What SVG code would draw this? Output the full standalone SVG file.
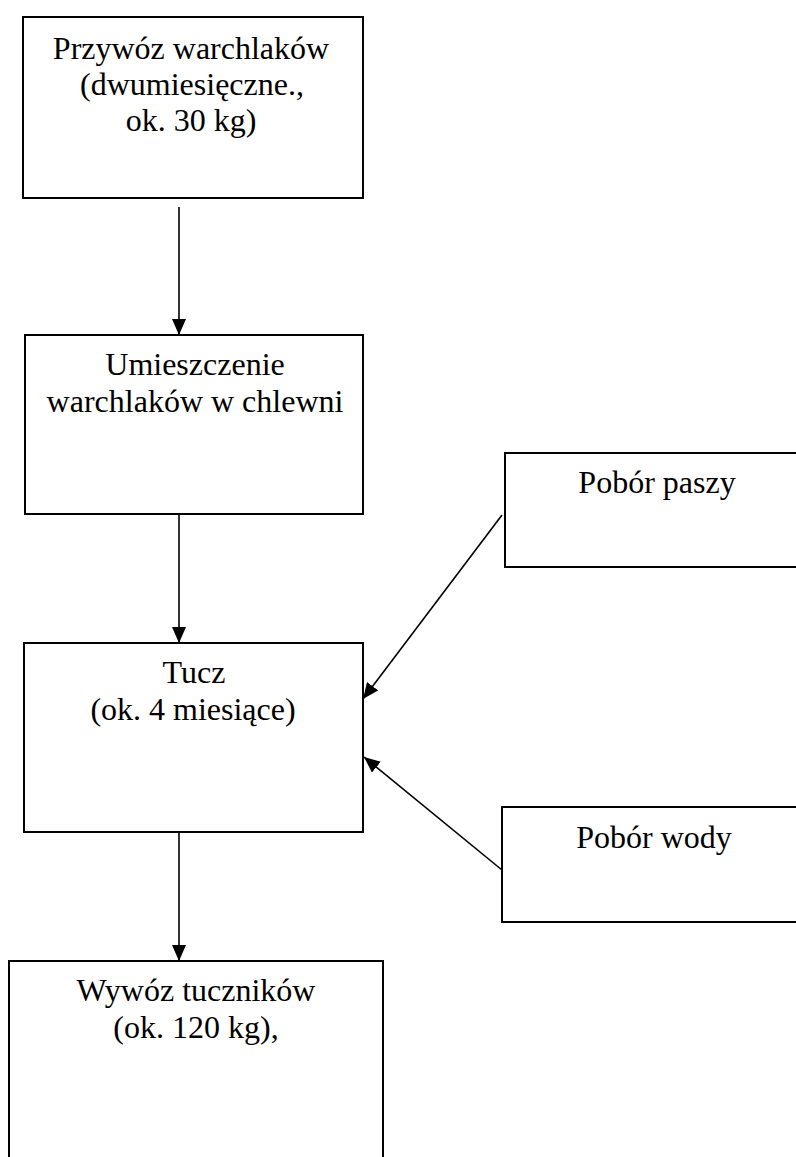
<svg xmlns="http://www.w3.org/2000/svg" width="796" height="1157" viewBox="0 0 796 1157">
<style>
.box{fill:#fff;stroke:#000;stroke-width:2}
.t{font-family:"Liberation Serif","Times New Roman",serif;font-size:32px;fill:#000;text-anchor:middle}
.c{stroke:#000;stroke-width:1.6;fill:none;marker-end:url(#ah)}
</style>
<defs>
<marker id="ah" markerUnits="userSpaceOnUse" markerWidth="16" markerHeight="14" refX="16" refY="7" orient="auto">
<path d="M0,0 L16,7 L0,14 z" fill="#000"/>
</marker>
</defs>
<rect width="796" height="1157" fill="#fff"/>
<g id="n1">
<rect class="box" x="23" y="17" width="340" height="181"/>
<text class="t" x="191" y="59">Przywóz warchlaków</text>
<text class="t" x="192" y="95">(dwumiesięczne.,</text>
<text class="t" x="191" y="131">ok. 30 kg)</text>
</g>
<g id="n2">
<rect class="box" x="25" y="335" width="338" height="179"/>
<text class="t" x="195" y="375">Umieszczenie</text>
<text class="t" x="195" y="412">warchlaków w chlewni</text>
</g>
<g id="n3">
<rect class="box" x="24" y="643" width="339" height="189"/>
<text class="t" x="194" y="683">Tucz</text>
<text class="t" x="193" y="720">(ok. 4 miesiące)</text>
</g>
<g id="n4">
<rect class="box" x="9" y="961" width="374" height="230"/>
<text class="t" x="196" y="1001">Wywóz tuczników</text>
<text class="t" x="196" y="1038">(ok. 120 kg),</text>
</g>
<g id="n5">
<rect class="box" x="505" y="453" width="305" height="114"/>
<text class="t" x="657" y="493">Pobór paszy</text>
</g>
<g id="n6">
<rect class="box" x="502" y="807" width="305" height="115"/>
<text class="t" x="654" y="848">Pobór wody</text>
</g>
<g id="connectors">
<line class="c" x1="179" y1="207" x2="179" y2="335"/>
<line class="c" x1="179" y1="514" x2="179" y2="643"/>
<line class="c" x1="179" y1="832" x2="179" y2="961"/>
<line class="c" x1="502" y1="515" x2="363" y2="699"/>
<line class="c" x1="502" y1="870" x2="364" y2="757"/>
</g>
</svg>
